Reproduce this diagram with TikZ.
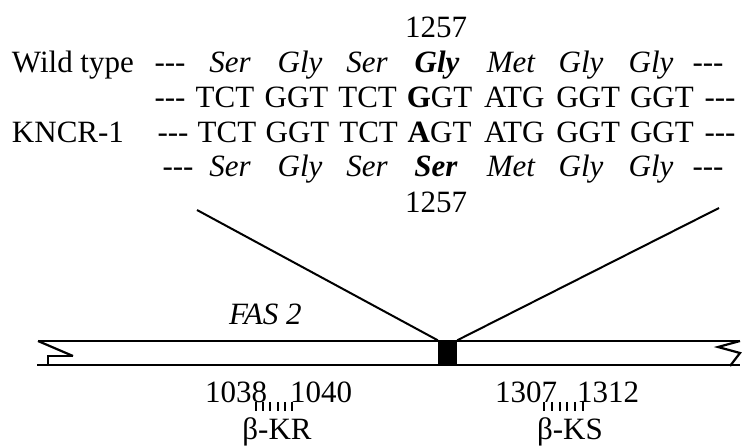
\documentclass[tikz,border=0pt]{standalone}
\usepackage{fontspec}
\setmainfont{Liberation Serif}
\begin{document}
\begin{tikzpicture}[x=1pt,y=-1pt,
  txt/.style={inner sep=0pt,outer sep=0pt,font=\fontsize{31}{37}\selectfont,anchor=base},
  aa/.style={txt,font=\fontsize{31}{37}\selectfont\itshape},
  bar/.style={line width=2.6pt},
  endmark/.style={line width=2.2pt},
  ray/.style={line width=2pt},
  tick/.style={line width=1.5pt}]
\useasboundingbox (0,0) rectangle (742,447);

% position labels of the mutated codon
\node[txt] (posT) at (436,37) {1257};
\node[txt] (posB) at (436,212) {1257};

% strain names
\node[txt,anchor=base west] (wt) at (12,72) {Wild type};
\node[txt,anchor=base west] (kn) at (12,142) {KNCR-1};

% wild-type amino acids
\node[txt] (wa0) at (170,72) {-{}-{}-};
\node[aa] (wa1) at (230,72) {Ser};
\node[aa] (wa2) at (300,72) {Gly};
\node[aa] (wa3) at (367,72) {Ser};
\node[aa,font=\fontsize{31}{37}\selectfont\bfseries\itshape] (wa4) at (437,72) {Gly};
\node[aa] (wa5) at (511,72) {Met};
\node[aa] (wa6) at (581,72) {Gly};
\node[aa] (wa7) at (651,72) {Gly};
\node[txt] (wa8) at (708,72) {-{}-{}-};

% wild-type codons
\node[txt] (wc0) at (170,107) {-{}-{}-};
\node[txt] (wc1) at (225,107) {TCT};
\node[txt] (wc2) at (296.5,107) {GGT};
\node[txt] (wc3) at (367.6,107) {TCT};
\node[txt] (wc4) at (439.6,107) {\textbf{G}GT};
\node[txt] (wc5) at (514.3,107) {ATG};
\node[txt] (wc6) at (588.1,107) {GGT};
\node[txt] (wc7) at (661.9,107) {GGT};
\node[txt] (wc8) at (720,107) {-{}-{}-};

% mutant codons
\node[txt] (mc0) at (173,142) {-{}-{}-};
\node[txt] (mc1) at (227,142) {TCT};
\node[txt] (mc2) at (297.5,142) {GGT};
\node[txt] (mc3) at (368.6,142) {TCT};
\node[txt] (mc4) at (439.6,142) {\textbf{A}GT};
\node[txt] (mc5) at (514.3,142) {ATG};
\node[txt] (mc6) at (588.1,142) {GGT};
\node[txt] (mc7) at (661.9,142) {GGT};
\node[txt] (mc8) at (720,142) {-{}-{}-};

% mutant amino acids
\node[txt] (ma0) at (178,176) {-{}-{}-};
\node[aa] (ma1) at (230,176) {Ser};
\node[aa] (ma2) at (300,176) {Gly};
\node[aa] (ma3) at (367,176) {Ser};
\node[aa,font=\fontsize{31}{37}\selectfont\bfseries\itshape] (ma4) at (436,176) {Ser};
\node[aa] (ma5) at (511,176) {Met};
\node[aa] (ma6) at (581,176) {Gly};
\node[aa] (ma7) at (651,176) {Gly};
\node[txt] (ma8) at (708,176) {-{}-{}-};

% gene bar
\node[aa,anchor=base west] (gene) at (229,324) {FAS 2};
\draw[bar] (38,341) -- (740,341);
\draw[bar] (37,365) -- (740,365);
% broken left end
\draw[endmark] (38,341) -- (73,356);
\draw[endmark] (73,356) -- (48,356) -- (48,366);
% broken right end
\draw[endmark,line join=miter] (740,341) -- (718,347) -- (740,353) -- (730,366);

% mutation site and zoom rays
\node[fill=black,inner sep=0pt,minimum width=19pt,minimum height=25pt] (mut) at (447.5,353) {};
\coordinate (rayL) at (197,210);
\coordinate (rayR) at (719,208);
\draw[ray] (rayL) -- (mut.north west);
\draw[ray] (mut.north east) -- (rayR);

% domain boundaries
\node[txt,anchor=base west] (kr1) at (205,402) {1038};
\node[txt,anchor=base west] (kr2) at (290,402) {1040};
\node[txt] (kr) at (277,439) {β-KR};
\foreach \x in {256,263,270,278,285,292}
  \draw[tick] (\x,402) -- (\x,411);
\node[txt,anchor=base west] (ks1) at (495,402) {1307};
\node[txt,anchor=base west] (ks2) at (577,402) {1312};
\node[txt] (ks) at (570,439) {β-KS};
\foreach \x in {544,552,560,567,575,583}
  \draw[tick] (\x,402) -- (\x,411);
\end{tikzpicture}
\end{document}
